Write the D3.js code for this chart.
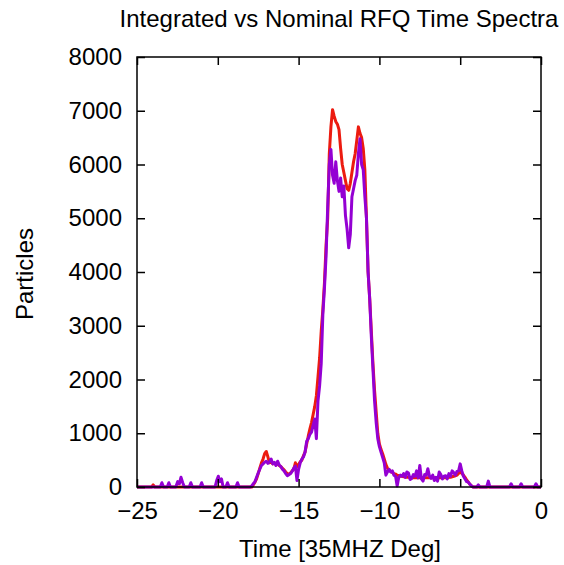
<!DOCTYPE html>
<html>
<head>
<meta charset="utf-8">
<script src="https://cdn.jsdelivr.net/npm/d3@7"></script>
<style>
  html, body { margin: 0; padding: 0; background: #fff; }
  svg { display: block; }
  text { font-family: "Liberation Sans", Arial, Helvetica, sans-serif; fill: #000; }
</style>
</head>
<body>
<svg id="chart" width="564" height="565"></svg>
<script>
// ---- data ----
const times = [
  -25, -24.1, -24.0, -23.9, -23.56, -23.46, -23.36, -23.13, -23.03, -22.93,
  -22.6, -22.48, -22.38, -22.28, -22.17, -22.07, -21.77, -21.67, -21.57,
  -21.1, -21.0, -20.9, -20.17, -20.07, -19.97, -19.87, -19.77, -19.67,
  -19.5, -19.4, -19.3, -18.88, -18.78, -18.68,
  -18.0, -17.9, -17.8, -17.7, -17.6, -17.5, -17.4, -17.3, -17.2, -17.1,
  -17.0, -16.9, -16.8, -16.7, -16.6, -16.5, -16.4, -16.3, -16.2, -16.1,
  -16.0, -15.9, -15.8, -15.7, -15.6, -15.5, -15.4, -15.3, -15.2, -15.1,
  -15.0, -14.9, -14.8, -14.7, -14.6, -14.5, -14.4, -14.3, -14.2, -14.1,
  -14.0, -13.9, -13.8, -13.7, -13.6, -13.5, -13.4, -13.3, -13.2, -13.1,
  -13.0, -12.9, -12.8, -12.7, -12.6, -12.5, -12.4, -12.3, -12.2, -12.1,
  -12.0, -11.9, -11.8, -11.7, -11.6, -11.5, -11.4, -11.3, -11.2, -11.1,
  -11.0, -10.9, -10.8, -10.7, -10.6, -10.5, -10.4, -10.3, -10.2, -10.1,
  -10.0, -9.9, -9.8, -9.7, -9.6, -9.5, -9.4, -9.3, -9.2, -9.1,
  -9.0, -8.9, -8.8, -8.7, -8.6, -8.5, -8.4, -8.3, -8.2, -8.1,
  -8.0, -7.9, -7.8, -7.7, -7.6, -7.5, -7.4, -7.3, -7.2, -7.1,
  -7.0, -6.9, -6.8, -6.7, -6.6, -6.5, -6.4, -6.3, -6.2, -6.1,
  -6.0, -5.9, -5.8, -5.7, -5.6, -5.5, -5.4, -5.3, -5.2, -5.1,
  -5.0, -4.9, -4.8, -4.7, -4.6, -4.5, -4.4, -4.3, -4.2, -4.1,
  -3.98, -3.88, -3.78, -3.36, -3.26, -3.16, -1.95, -1.85, -1.75,
  -1.33, -1.23, -1.13, -0.41, -0.31, -0.21, 0
];

// red series
const integrated = [
  0, 0, 40, 0, 0, 0, 0, 0, 0, 0,
  0, 0, 0, 0, 0, 0, 0, 0, 0,
  0, 0, 0, 0, 0, 0, 0, 0, 0,
  0, 0, 0, 0, 0, 0,
  0, 0, 40, 90, 150, 250, 350, 450, 520, 620,
  660, 560, 450, 470, 430, 440, 420, 430, 400, 380,
  350, 320, 280, 250, 240, 260, 300, 330, 450, 380,
  420, 470, 500, 580, 650, 800, 950, 1080, 1200, 1350,
  1500, 1700, 2050, 2400, 2900, 3300, 3800, 4500, 5000, 6200,
  6700, 7020, 6900, 6800, 6750, 6650, 6300, 6000, 5850, 5700,
  5550, 5520, 5650, 5850, 6050, 6200, 6450, 6700, 6580, 6500,
  6300, 5900, 5000, 4000, 3500, 2900, 2300, 1800, 1400, 1000,
  800, 700, 620, 520, 420, 350, 320, 290, 270, 250,
  240, 220, 210, 200, 200, 190, 190, 180, 180, 180,
  170, 170, 170, 170, 170, 170, 170, 170, 170, 170,
  170, 170, 170, 170, 170, 170, 170, 170, 170, 170,
  170, 170, 170, 180, 180, 190, 200, 210, 220, 250,
  280, 250, 220, 180, 130, 90, 50, 20, 0, 0,
  0, 0, 0, 0, 0, 0, 0, 0, 0,
  0, 0, 0, 0, 0, 0, 0
];

// purple series
const nominal = [
  0, 0, 0, 0, 0, 80, 0, 0, 80, 0,
  0, 100, 60, 180, 80, 0, 0, 80, 0,
  0, 80, 0, 0, 120, 200, 100, 150, 0,
  0, 80, 0, 0, 80, 0,
  0, 20, 60, 100, 180, 260, 330, 400, 430, 460,
  480, 440, 470, 520, 430, 460, 400, 480, 410, 380,
  330, 300, 250, 210, 230, 250, 290, 350, 390, 120,
  330, 450, 520, 560, 650, 850, 900, 980, 1020, 1150,
  1265, 900, 1600, 1880, 2300, 3200, 3700, 4300, 5200, 6000,
  6280, 5800, 5650, 6050, 5700, 5500, 5750, 5400, 5600, 5050,
  4800, 4450, 4700, 5400, 5550, 5700, 5800, 6200, 6480, 6000,
  5900, 5400, 5000, 4000, 3500, 2800, 2200, 1600, 1200, 900,
  750, 650, 550, 450, 220, 280, 330, 280, 300, 220,
  200, 20, 180, 220, 200, 250, 180, 280, 260, 140,
  160, 230, 200, 300, 170, 400, 150, 110, 230, 220,
  340, 200, 160, 220, 120, 180, 110, 280, 230, 150,
  200, 210, 150, 250, 200, 300, 270, 220, 290, 300,
  430, 300, 200, 150, 100, 90, 50, 20, 0, 0,
  0, 40, 0, 0, 110, 0, 0, 60, 0,
  0, 60, 0, 0, 60, 0, 0
];

const xTicks = [-25, -20, -15, -10, -5, 0];
const yTicks = [0, 1000, 2000, 3000, 4000, 5000, 6000, 7000, 8000];

const titleText = "Integrated vs Nominal RFQ Time Spectra";
const xLabel = "Time [35MHZ Deg]";
const yLabel = "Particles";

// ---- drawing ----
const svg = d3.select("#chart");
const mLeft = 137, mRight = 541, mTop = 57, mBottom = 487;

const x = d3.scaleLinear().domain([-25, 0]).range([mLeft, mRight]);
const y = d3.scaleLinear().domain([0, 8000]).range([mBottom, mTop]);

const line = d3.line().x(d => x(d[0])).y(d => y(d[1]));

const redData = times.map((t, i) => [t, integrated[i]]);
const purpleData = times.map((t, i) => [t, nominal[i]]);

svg.append("path").datum(redData)
  .attr("d", line).attr("fill", "none")
  .attr("stroke", "#ec1b10").attr("stroke-width", 3)
  .attr("stroke-linejoin", "round");

svg.append("path").datum(purpleData)
  .attr("d", line).attr("fill", "none")
  .attr("stroke", "#9400d3").attr("stroke-width", 3)
  .attr("stroke-linejoin", "round");

// axes with inner ticks
const fontSize = 24;
const bottomAxis = d3.axisBottom(x).tickValues(xTicks).tickSize(-8).tickPadding(15).tickFormat(d3.format("d"));
const topAxis = d3.axisTop(x).tickValues(xTicks).tickSize(-8).tickFormat("");
const leftAxis = d3.axisLeft(y).tickValues(yTicks).tickSize(-8).tickPadding(15).tickFormat(d3.format("d"));
const rightAxis = d3.axisRight(y).tickValues(yTicks).tickSize(-8).tickFormat("");

function styleAxis(g) {
  g.select(".domain").remove();
  g.selectAll(".tick line").attr("stroke", "#000").attr("stroke-width", 1.5);
  g.selectAll(".tick text").attr("font-size", fontSize)
    .attr("font-family", "Liberation Sans, Arial, sans-serif").attr("fill", "#000");
}

svg.append("g").attr("transform", `translate(0,${mBottom})`).call(bottomAxis).call(styleAxis);
svg.append("g").attr("transform", `translate(0,${mTop})`).call(topAxis).call(styleAxis);
svg.append("g").attr("transform", `translate(${mLeft},0)`).call(leftAxis).call(styleAxis);
svg.append("g").attr("transform", `translate(${mRight},0)`).call(rightAxis).call(styleAxis);

// border
svg.append("rect")
  .attr("x", mLeft).attr("y", mTop)
  .attr("width", mRight - mLeft).attr("height", mBottom - mTop)
  .attr("fill", "none").attr("stroke", "#000").attr("stroke-width", 1.5);

// title and labels
svg.append("text").attr("x", 339).attr("y", 27)
  .attr("text-anchor", "middle").attr("font-size", fontSize).text(titleText);

svg.append("text").attr("x", 340).attr("y", 557)
  .attr("text-anchor", "middle").attr("font-size", fontSize).text(xLabel);

svg.append("text")
  .attr("transform", "translate(33,274) rotate(-90)")
  .attr("text-anchor", "middle").attr("font-size", fontSize).text(yLabel);
</script>
</body>
</html>
